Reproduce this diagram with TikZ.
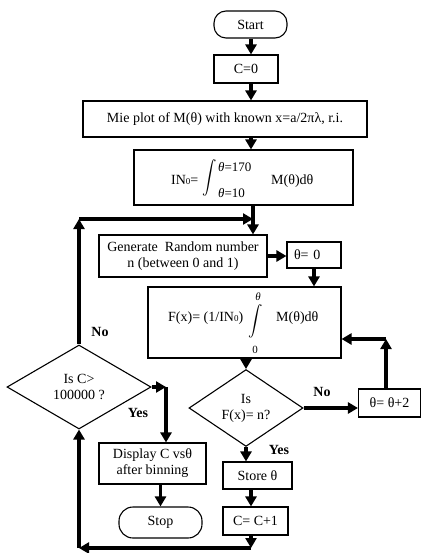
\documentclass[tikz,border=0pt]{standalone}
\usepackage{amsmath}
\usepackage{fontspec}
\usepackage{graphicx}
\setmainfont{Liberation Serif}
\usetikzlibrary{arrows.meta,shapes.geometric}
\newcommand\fsz{\fontsize{14}{16}\selectfont}
\newcommand\smallz{{\fontsize{9}{9}\selectfont 0}}
\begin{document}
\begin{tikzpicture}[x=1pt,y=-1pt,
  box/.style={draw, line width=1.1pt, inner sep=0pt, align=center, font=\fsz},
  rbox/.style={box, rounded corners=12pt},
  dia/.style={draw, diamond, line width=1.1pt, inner sep=0pt, align=center, font=\fsz},
  arr/.style={line width=3.2pt, -{Triangle[length=10pt,width=11pt]}},
  lbl/.style={font=\fsz\bfseries, inner sep=1pt},
  txt/.style={font=\fsz, inner sep=0pt}]
\useasboundingbox (0,0) rectangle (421,553);

% boxes
\node[rbox, minimum width=73pt, minimum height=27pt] (start) at (250.5,24.5) {Start};
\node[box, minimum width=64pt, minimum height=28pt] (c0) at (246,69) {C=0};
\node[box, minimum width=284pt, minimum height=36pt] (mie) at (225,119) {Mie plot of M(θ) with known x=a/2πλ, r.i.};
\node[box, minimum width=219pt, minimum height=55pt] (in0) at (243.5,177.5) {};
\node[txt, anchor=base west] (in0a) at (171,185) {IN\smallz=};
\node[txt] (in0i) at (210,178) {\scalebox{1}[1.15]{$\displaystyle\int$}};
\node[inner sep=0pt, font=\fontsize{13}{13}\selectfont, anchor=west] (in0u) at (218,167) {\textit{θ}=170};
\node[inner sep=0pt, font=\fontsize{13}{13}\selectfont, anchor=west] (in0l) at (218,193) {\textit{θ}=10};
\node[txt, anchor=west] (in0m) at (271,181) {M(θ)dθ};

\node[box, minimum width=168pt, minimum height=42pt] (gen) at (183,256) {Generate\ \ Random number\\n (between 0 and 1)};
\node[box, minimum width=54pt, minimum height=26pt, text width=40pt, inner xsep=7pt, align=left] (th0) at (314,255) {θ= 0};

\node[box, minimum width=193pt, minimum height=71pt] (fbox) at (244.5,322.5) {};
\node[txt, anchor=west] (fa) at (168,318) {F(x)= (1/IN\smallz)};
\node[txt] (fi) at (256,321) {\scalebox{1}[1.05]{$\displaystyle\int$}};
\node[inner sep=0pt, font=\fontsize{11}{11}\selectfont\itshape] (fu) at (258,297) {θ};
\node[inner sep=0pt, font=\fontsize{11}{11}\selectfont] (fl) at (255,350) {0};
\node[txt, anchor=west] (fm) at (276,318) {M(θ)dθ};

\node[dia, minimum width=114pt, minimum height=72pt] (dfx) at (246,408) {Is\\F(x)= n?};
\node[box, minimum width=62pt, minimum height=28pt] (th2) at (389.5,403) {θ= θ+2};
\node[dia, minimum width=144pt, minimum height=84pt] (dc) at (79,387) {Is C>\\100000 ?};
\node[box, minimum width=107pt, minimum height=41pt] (disp) at (152.5,463.5) {Display C vsθ\\after binning};
\node[rbox, minimum width=83pt, minimum height=31pt, rounded corners=14pt] (stop) at (160.5,522.5) {Stop};
\node[box, minimum width=69pt, minimum height=27pt] (store) at (257.5,475.5) {Store θ};
\node[box, minimum width=65pt, minimum height=28pt] (cc1) at (255.5,521) {C= C+1};

% helper coordinates
\coordinate (ax) at (251,0);
\coordinate (jx) at (253,0);
\coordinate (ltop) at (79,219);
\coordinate (rt) at (386,339);
\coordinate (yc) at (166,387);
\coordinate (bx) at (251,548);
\coordinate (bl) at (79,548);

% connectors
\draw[arr] (start.south -| ax) -- (c0.north -| ax);
\draw[arr] (c0.south -| ax) -- (mie.north -| ax);
\draw[arr] (mie.south -| ax) -- (in0.north -| ax);
\draw[arr] (in0.south -| jx) -- (gen.north -| jx);
\draw[arr] (dc.north) -- (ltop);
\draw[arr] (ltop) -- (ltop -| jx);
\draw[arr] (gen.east) -- (gen.east -| th0.west);
\draw[arr] (th0.south) -- (th0.south |- fbox.north);
\draw[arr] (fbox.south -| dfx.north) -- (dfx.north);
\draw[arr] (dfx.east) -- (dfx.east -| th2.west);
\draw[arr] (th2.north -| rt) -- (rt);
\draw[arr] (rt) -- (rt -| fbox.east);
\draw[arr] (dfx.south) -- (dfx.south |- store.north);
\draw[arr] (store.south -| ax) -- (cc1.north -| ax);
\draw[arr] (cc1.south -| ax) -- (bx);
\draw[arr] (bx) -- (bl);
\draw[arr] (bl) -- (dc.south);
\draw[arr] (dc.east) -- (yc);
\draw[arr] (yc) -- (yc |- disp.north);
\draw[arr] (disp.south -| stop.north) -- (stop.north);

% labels
\node[lbl] (no1) at (100,332) {No};
\node[lbl, fill=white] (yes1) at (138,413) {Yes};
\node[lbl] (no2) at (322,392) {No};
\node[lbl, fill=white] (yes2) at (279,450) {Yes};
\end{tikzpicture}
\end{document}
